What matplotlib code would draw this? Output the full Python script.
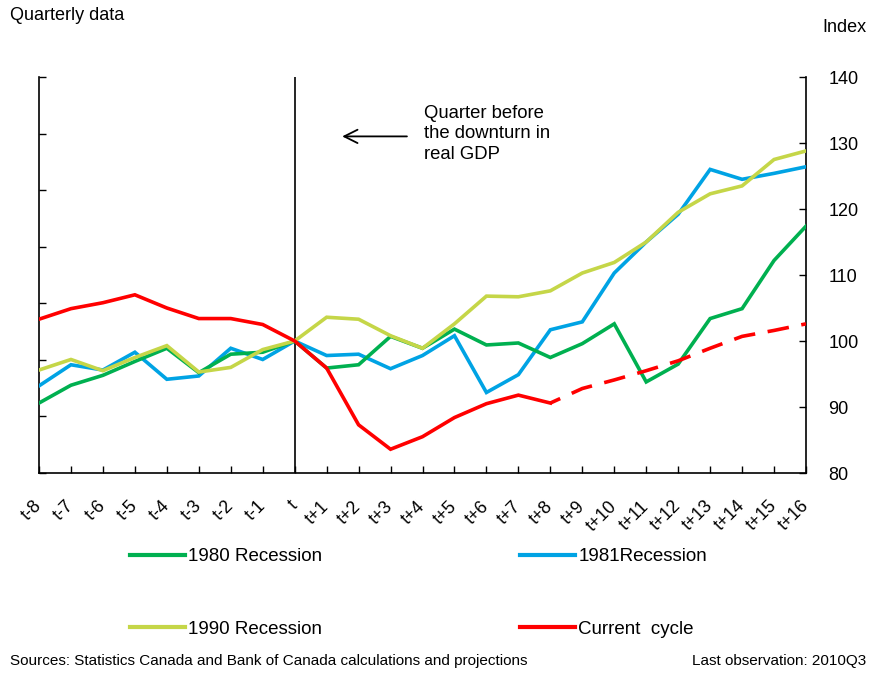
import matplotlib
matplotlib.use("Agg")
import matplotlib.pyplot as plt
from matplotlib.lines import Line2D

plt.rcParams['font.family'] = ['Liberation Sans', 'DejaVu Sans']

quarters = ["t-8", "t-7", "t-6", "t-5", "t-4", "t-3", "t-2", "t-1", "t",
            "t+1", "t+2", "t+3", "t+4", "t+5", "t+6", "t+7", "t+8", "t+9",
            "t+10", "t+11", "t+12", "t+13", "t+14", "t+15", "t+16"]

rec1980 = [90.6, 93.3, 94.8, 96.9, 98.9, 95.2, 98.0, 98.3, 100.0,
           95.9, 96.4, 100.7, 98.9, 101.8, 99.4, 99.7, 97.5, 99.6,
           102.6, 93.8, 96.5, 103.4, 104.9, 112.2, 117.4]
rec1981 = [93.2, 96.4, 95.6, 98.3, 94.2, 94.7, 98.9, 97.2, 100.0,
           97.8, 98.0, 95.8, 97.8, 100.8, 92.2, 94.9, 101.7, 102.9,
           110.3, 115.0, 119.2, 126.0, 124.5, 125.4, 126.4]
rec1990 = [95.6, 97.2, 95.5, 97.5, 99.3, 95.3, 96.0, 98.7, 100.0,
           103.6, 103.3, 100.8, 98.9, 102.6, 106.8, 106.7, 107.6, 110.3,
           111.9, 115.0, 119.5, 122.3, 123.5, 127.5, 128.8]
current_actual = [103.3, 104.9, 105.8, 107.0, 105.0, 103.4, 103.4, 102.5, 100.0,
                  95.9, 87.3, 83.6, 85.5, 88.4, 90.5, 91.8, 90.6]
current_proj = [90.6, 92.8, 94.1, 95.5, 97.0, 98.9, 100.7, 101.6, 102.6]

labels = ["1980 Recession", "1981Recession", "1990 Recession", "Current  cycle"]
c_green, c_blue, c_yellow, c_red = "#00B050", "#00A3E4", "#C5D648", "#FF0000"

W, H = 871, 675
fig = plt.figure(figsize=(W / 100, H / 100), dpi=100)
ax = fig.add_axes([39 / W, 1 - 473 / H, (806 - 39) / W, (473 - 77) / H])

x = list(range(len(quarters)))
n_act = len(current_actual)
x_proj = x[n_act - 1:]
lw = 2.6
ax.plot(x, rec1981, color=c_blue, lw=lw, solid_joinstyle='miter', zorder=3)
ax.plot(x, rec1980, color=c_green, lw=lw, solid_joinstyle='miter', zorder=4)
ax.plot(x, rec1990, color=c_yellow, lw=lw, solid_joinstyle='miter', zorder=5)
ax.plot(x[:n_act], current_actual, color=c_red, lw=lw, solid_joinstyle='miter', zorder=6)
ax.plot(x_proj, current_proj, color=c_red, lw=lw, ls=(3, (6, 3.5)), zorder=6)

ax.set_xlim(0, len(quarters) - 1)
ax.set_ylim(80, 140)

axL = ax.twinx()
axL.set_ylim(0, 7)
axL.set_yticks(range(8))
axL.set_yticklabels([])
axL.yaxis.tick_left()
axL.tick_params(axis='y', direction='in', length=5, width=1)
for s in axL.spines.values():
    s.set_visible(False)

ax.set_yticks(range(80, 141, 10))
ax.yaxis.tick_right()
ax.yaxis.set_label_position('right')
ax.tick_params(axis='y', direction='in', length=5, width=1, labelsize=13,
               pad=16, left=False, labelleft=False, right=True, labelright=True)
ax.set_xticks(x)
ax.set_xticklabels(quarters, rotation=45, ha='right', va='center', rotation_mode='anchor')
ax.tick_params(axis='x', direction='in', length=5, width=1, labelsize=12.8, pad=22)
for s in ['left', 'right', 'bottom']:
    ax.spines[s].set_linewidth(1.2)
ax.spines['top'].set_visible(False)
ax.axvline(quarters.index("t"), color='black', lw=1.2, zorder=2)

ax.annotate("", xy=(9.4, 131.0), xytext=(11.6, 131.0),
            arrowprops=dict(arrowstyle='->', color='black', lw=1.3, mutation_scale=24))
ax.text(12.05, 135.8, "Quarter before\nthe downturn in\nreal GDP", fontsize=13.3,
        ha='left', va='top', linespacing=1.28)

fig.text(10 / W, 1 - 16 / H, "Quarterly data", fontsize=13, ha='left', va='center')
fig.text(866 / W, 1 - 28 / H, "Index", fontsize=13, ha='right', va='center')
fig.text(10 / W, 1 - 661 / H, "Sources: Statistics Canada and Bank of Canada calculations and projections",
         fontsize=11, ha='left', va='center')
fig.text(866 / W, 1 - 661 / H, "Last observation: 2010Q3", fontsize=11, ha='right', va='center')

leg_font = dict(size=13.5)
h1 = [Line2D([], [], color=c_green, lw=3), Line2D([], [], color=c_yellow, lw=3)]
h2 = [Line2D([], [], color=c_blue, lw=3), Line2D([], [], color=c_red, lw=3)]
for hs, labs, x0 in [(h1, [labels[0], labels[2]], 130), (h2, [labels[1], labels[3]], 520)]:
    fig.legend(hs, labs, loc='upper left', bbox_to_anchor=(x0 / W, 1 - 548 / H),
               frameon=False, borderpad=0, borderaxespad=0, handlelength=2.95,
               handletextpad=0.15, labelspacing=2.95, prop=leg_font)

fig.savefig("out.png", dpi=100)
